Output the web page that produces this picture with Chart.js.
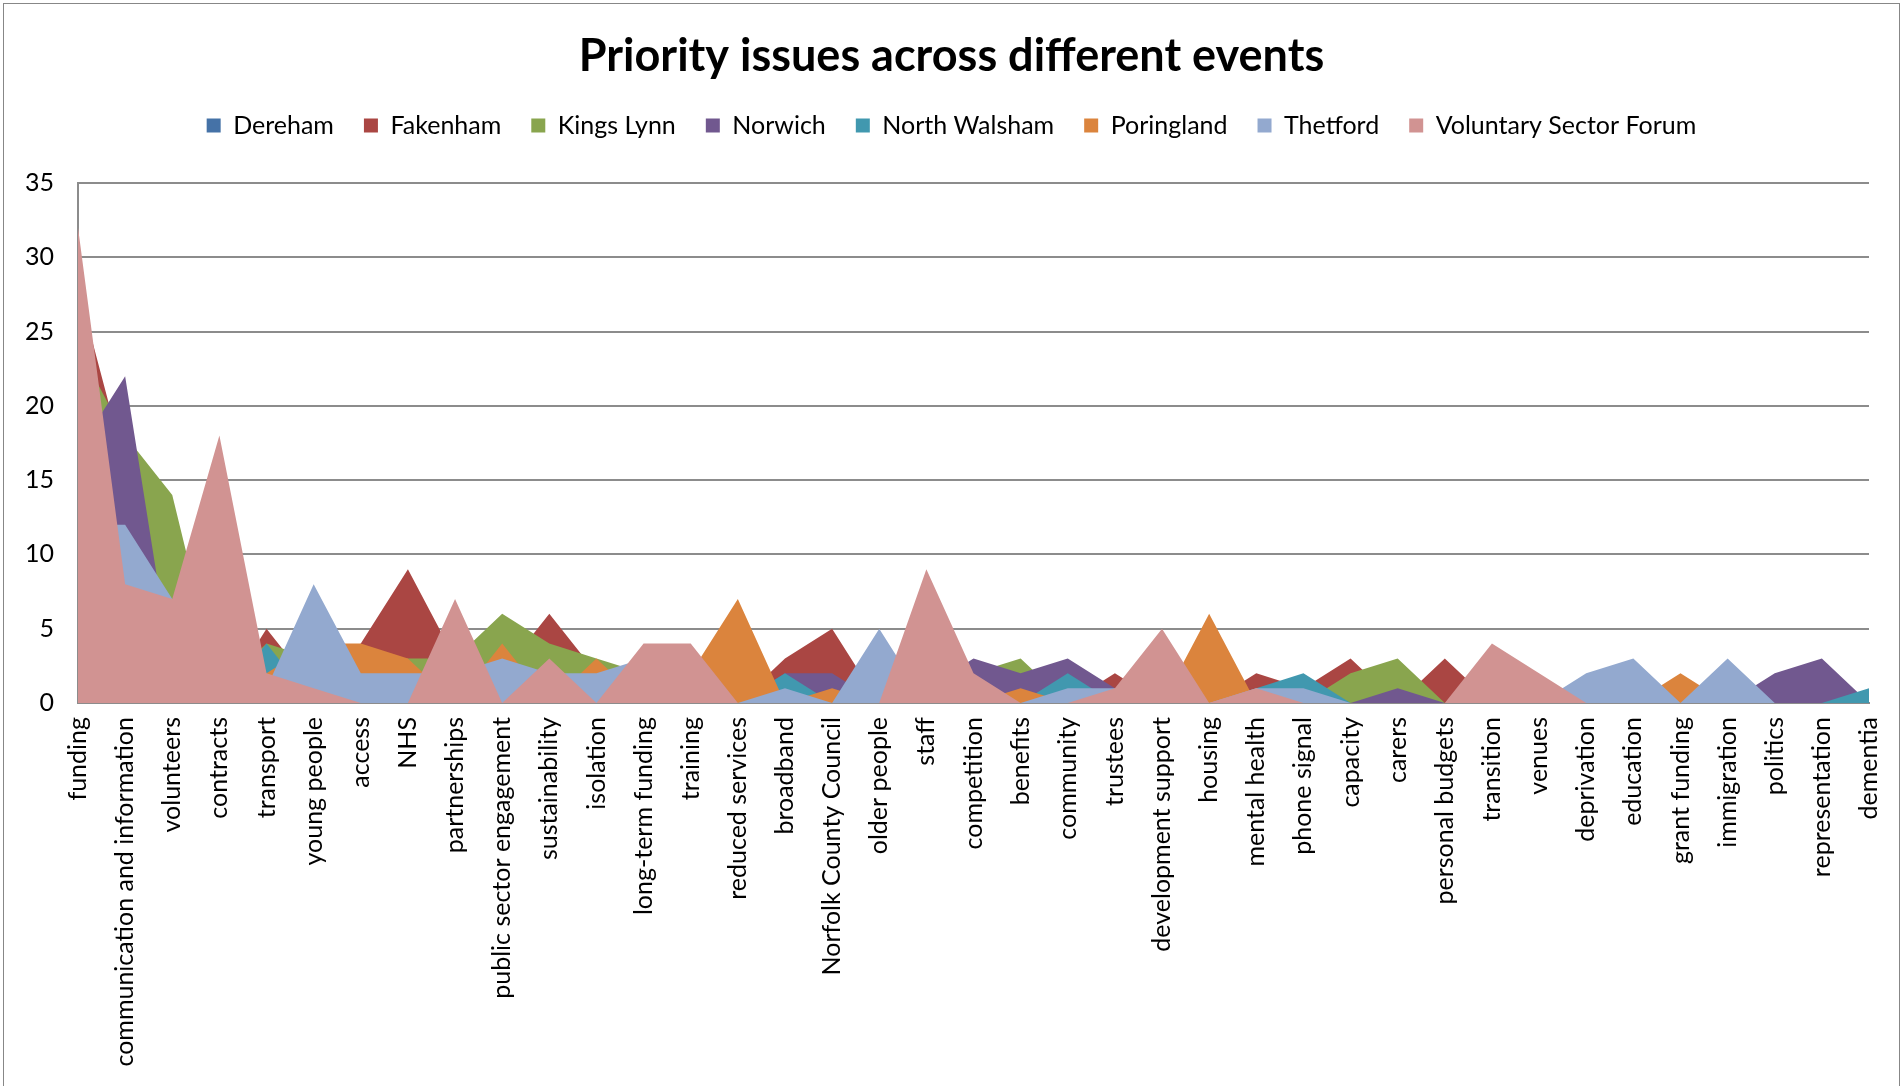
<!DOCTYPE html>
<html>
<head>
<meta charset="utf-8">
<title>Priority issues across different events</title>
<script src="https://cdn.jsdelivr.net/npm/chart.js@4.4.1/dist/chart.umd.min.js"></script>
<style>
  html, body { margin: 0; padding: 0; background: #fff; overflow: hidden; }
  #wrap { position: absolute; left: 0; top: 0; width: 1903px; height: 1086px; }
  #frame { position: absolute; left: 3px; top: 3px; width: 1895px; height: 1100px; border: 1px solid #878787; pointer-events: none; }
</style>
</head>
<body>
<div id="wrap"><canvas id="issuesChart"></canvas></div>
<div id="frame"></div>
<script>
// issues raised, in the order they appear along the axis
const categories = [
  'funding', 'communication and information', 'volunteers', 'contracts', 'transport',
  'young people', 'access', 'NHS', 'partnerships', 'public sector engagement',
  'sustainability', 'isolation', 'long-term funding', 'training', 'reduced services',
  'broadband', 'Norfolk County Council', 'older people', 'staff', 'competition',
  'benefits', 'community', 'trustees', 'development support', 'housing',
  'mental health', 'phone signal', 'capacity', 'carers', 'personal budgets',
  'transition', 'venues', 'deprivation', 'education', 'grant funding',
  'immigration', 'politics', 'representation', 'dementia'
];

// number of mentions per event
const dereham       = [22, 12, 6, 5, 2, 2, 1, 1, 2, 2, 1, 1, 2, 1, 0, 0, 0, 0, 2, 1, 1, 1, 0, 1, 0, 0, 0, 0, 0, 0, 1, 0, 0, 1, 0, 0, 0, 0, 0];
const fakenham      = [28, 16, 9, 0, 5, 1, 4, 9, 3, 2, 6, 2, 2, 1, 0, 3, 5, 0, 1, 1, 1, 0, 2, 0, 0, 2, 1, 3, 0, 3, 0, 0, 0, 0, 0, 0, 0, 0, 0];
const kingsLynn     = [24, 18, 14, 1, 4, 3, 3, 3, 3, 6, 4, 3, 2, 1, 0, 1, 0, 0, 1, 2, 3, 0, 0, 0, 0, 0, 0, 2, 3, 0, 0, 0, 0, 0, 0, 0, 0, 0, 0];
const norwich       = [17, 22, 2, 2, 1, 1, 1, 1, 2, 1, 1, 1, 1, 1, 0, 2, 2, 0, 1, 3, 2, 3, 1, 0, 0, 0, 0, 0, 1, 0, 0, 0, 0, 0, 0, 0, 2, 3, 0];
const northWalsham  = [8, 5, 3, 0, 4, 0, 1, 1, 1, 1, 1, 1, 1, 0, 0, 2, 0, 0, 0, 1, 0, 2, 0, 0, 0, 1, 2, 0, 0, 0, 0, 0, 0, 0, 0, 0, 0, 0, 1];
const poringland    = [10, 6, 3, 2, 2, 4, 4, 3, 0, 4, 0, 3, 0, 2, 7, 0, 1, 0, 0, 0, 1, 0, 0, 0, 6, 0, 0, 0, 0, 0, 0, 0, 0, 0, 2, 0, 0, 0, 0];
const thetford      = [12, 12, 7, 4, 1, 8, 2, 2, 2, 3, 2, 2, 3, 1, 0, 1, 0, 5, 0, 0, 0, 1, 1, 1, 0, 1, 1, 0, 0, 0, 0, 0, 2, 3, 0, 3, 0, 0, 0];
const voluntarySector = [32, 8, 7, 18, 2, 1, 0, 0, 7, 0, 3, 0, 4, 4, 0, 0, 0, 0, 9, 2, 0, 0, 1, 5, 0, 1, 0, 0, 0, 0, 4, 2, 0, 0, 0, 0, 0, 0, 0];

const seriesNames = ['Dereham', 'Fakenham', 'Kings Lynn', 'Norwich', 'North Walsham', 'Poringland', 'Thetford', 'Voluntary Sector Forum'];
const seriesValues = [dereham, fakenham, kingsLynn, norwich, northWalsham, poringland, thetford, voluntarySector];
const seriesColors = ['#4572A7', '#AA4643', '#89A54E', '#71588F', '#4198AF', '#DB843D', '#93A9CF', '#D19392'];

const yMax = 35;
const yStep = 5;

Chart.defaults.font.family = 'Lato, "Liberation Sans", sans-serif';
Chart.defaults.color = '#000';

// later series are painted over earlier ones, like overlapping areas
const datasets = seriesNames.map((name, i) => ({
  label: name,
  data: seriesValues[i],
  backgroundColor: seriesColors[i],
  borderColor: seriesColors[i],
  borderWidth: 0,
  pointRadius: 0,
  pointHoverRadius: 0,
  fill: 'origin',
  tension: 0,
  order: seriesNames.length - i
}));

// extra room between the legend and the plot
const legendMargin = {
  id: 'legendMargin',
  beforeInit(chart) {
    const fitLegend = chart.legend.fit;
    chart.legend.fit = function () {
      fitLegend.call(this);
      this.height += 35;
    };
  }
};

const gridGray = '#8c8c8c';

new Chart(document.getElementById('issuesChart'), {
  type: 'line',
  data: { labels: categories, datasets },
  plugins: [legendMargin],
  options: {
    responsive: true,
    maintainAspectRatio: false,
    animation: false,
    events: [],
    layout: { padding: 0 },
    plugins: {
      title: {
        display: true,
        text: 'Priority issues across different events',
        color: '#000',
        font: { size: 45, weight: 'bold' },
        padding: { top: 29, bottom: 0 }
      },
      legend: {
        position: 'top',
        labels: {
          boxWidth: 14,
          boxHeight: 14,
          padding: 30,
          color: '#000',
          font: { size: 25 },
          sort: (a, b) => a.datasetIndex - b.datasetIndex
        }
      },
      tooltip: { enabled: false }
    },
    scales: {
      x: {
        z: 1,
        grid: { display: false, drawTicks: false },
        border: { display: true, color: gridGray, width: 2 },
        ticks: {
          autoSkip: false,
          maxRotation: 90,
          minRotation: 90,
          padding: 14,
          font: { size: 25 }
        },
        afterFit(scale) {
          scale.height = 383;
          // keep a fixed gap on the right of the plot, title and legend stay centred on the page
          scale.paddingRight = 34;
        }
      },
      y: {
        min: 0,
        max: yMax,
        ticks: { stepSize: yStep, padding: 24, font: { size: 25 } },
        grid: { color: gridGray, lineWidth: 2, drawTicks: false },
        border: { display: true, color: gridGray, width: 2 },
        afterFit(scale) { scale.width = 78; }
      }
    }
  }
});
</script>
</body>
</html>
